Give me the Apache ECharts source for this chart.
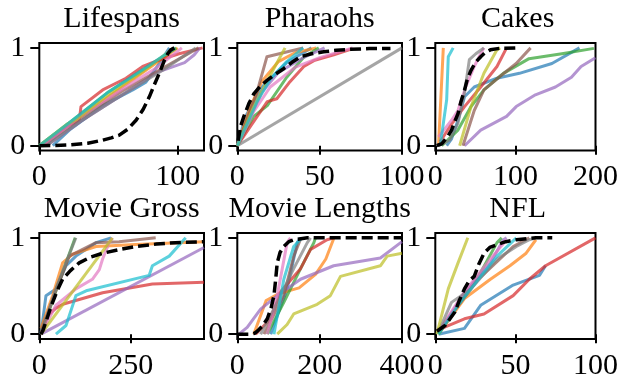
<!DOCTYPE html>
<html>
<head>
<meta charset="utf-8">
<script src="https://cdn.jsdelivr.net/npm/echarts@6/dist/echarts.min.js"></script>
<style>
html,body{margin:0;padding:0;background:#fff;}
#chart{width:621px;height:381px;}
</style>
</head>
<body>
<div id="chart"></div>
<script>
// ---- data ----
const colors = ['#1f77b4','#ff7f0e','#2ca02c','#d62728','#9467bd','#8c564b','#e377c2','#7f7f7f','#bcbd22','#17becf'];
const titles = ['Lifespans','Pharaohs','Cakes','Movie Gross','Movie Lengths','NFL'];
const xMax = [119, 100, 200, 450, 400, 100];
const xTicks = [[0,100],[0,50,100],[0,100,200],[0,250],[0,200,400],[0,50,100]];
const yTicks = [0, 1];

// Lifespans: one line per colour (blue..cyan), then the true distribution
const lifespansLines = [
  [[9.7,0],[21.7,0.16],[45.8,0.41],[67.5,0.57],[77,0.65],[86.7,0.84],[94,1]],
  [[1,0],[25,0.25],[50,0.5],[75,0.75],[100,1]],
  [[0,0],[25,0.27],[50,0.55],[75,0.78],[99,1]],
  [[2,0],[20,0.2],[28.9,0.26],[30.1,0.40],[45.8,0.57],[62.6,0.69],[74.7,0.81],[86.7,0.876],[101,0.94],[118,1]],
  [[5,0],[30,0.25],[60,0.52],[85,0.75],[105,0.85],[112,0.93],[116,1]],
  [[3,0],[30,0.28],[60,0.56],[90,0.8],[115,1]],
  [[2,0],[30,0.3],[60,0.58],[85,0.8],[103,1]],
  [[5,0],[30,0.25],[60,0.52],[90,0.78],[113,1]],
  [[0,0],[20,0.22],[27,0.27],[50,0.52],[75,0.76],[97,1]],
  [[0,0],[25,0.27],[50,0.55],[75,0.78],[98,1]]
];
const lifespansTrue = [[0,0],[10,0.002],[21.7,0.008],[35,0.025],[45.8,0.057],[52,0.08],[57.8,0.108],[64,0.17],[69.9,0.26],[75,0.37],[79.5,0.5],[83,0.62],[86.7,0.74],[90,0.86],[92.8,0.94],[95,0.98],[97.6,1]];

const pharaohsLines = [
  [[0,0],[5,0.3],[15,0.6],[30,0.85],[45,1]],
  [[0,0],[8,0.4],[15,0.66],[25,0.86],[35,0.95],[48,1]],
  [[0,0],[10,0.3],[18.2,0.41],[30,0.7],[40,0.9],[49.5,1]],
  [[0,0],[18.2,0.45],[24,0.48],[31.3,0.64],[40.4,0.81],[46.5,0.87],[58.6,0.93],[69.7,0.99]],
  [[0,0],[15,0.55],[25,0.75],[40,0.9],[53,1]],
  [[0,0],[12,0.55],[18,0.91],[28,0.95],[40,1]],
  [[0,0],[10,0.35],[20,0.6],[35,0.8],[50,0.9],[70,1]],
  [[0,0],[100,1]],
  [[0,0],[10,0.4],[20,0.72],[29,1]],
  [[0,0],[12,0.45],[20,0.68],[30,0.86],[40,1]]
];
const pharaohsTrue = [[0.5,0.05],[2,0.2],[4,0.3],[7,0.43],[10,0.53],[14,0.61],[18.2,0.67],[23,0.73],[28.3,0.79],[33,0.85],[38.4,0.91],[45,0.94],[52.5,0.96],[60,0.975],[68.7,0.985],[80,0.993],[93,0.995]];

const cakesLines = [
  [[14.2,0],[20.3,0.07],[28.3,0.26],[36.5,0.5],[48.6,0.6],[76.9,0.69],[105,0.74],[145.6,0.84],[180,1]],
  [[4,0],[7,0.5],[10,1]],
  [[8,0],[28.3,0.16],[44.6,0.4],[60.7,0.57],[85,0.74],[117,0.89],[158,0.94],[198,0.995]],
  [[6,0.04],[20.3,0.22],[36.5,0.40],[56.7,0.6],[77,0.81],[89,1]],
  [[36.5,0],[56.7,0.16],[89,0.3],[101,0.4],[125,0.52],[150,0.6],[170,0.7],[182,0.81],[200,0.9]],
  [[34.5,0],[48.6,0.36],[60.7,0.57],[81,0.71],[101,0.84],[119,1]],
  [[4,0.09],[20.3,0.26],[28.3,0.36],[38,0.6],[48.6,0.81],[56.7,0.94],[60.7,1]],
  [[4,0],[18.2,0.06],[28.3,0.23],[36.5,0.54],[42.5,0.88],[50.6,0.94],[60.7,1]],
  [[30.4,0],[44.6,0.40],[60.7,0.74],[77,0.98],[81,1]],
  [[6.1,0],[14.2,0.47],[16.2,0.91],[22.3,1]]
];
const cakesTrue = [[1.8,0],[8,0.02],[12.1,0.06],[16,0.1],[20.3,0.16],[24,0.24],[28.4,0.33],[32,0.45],[36.5,0.57],[40,0.68],[44.6,0.77],[50,0.85],[56.7,0.91],[62,0.95],[68.8,0.98],[80,0.995],[103,1]];

const movieGrossLines = [
  [[4,0],[9,0.13],[18.2,0.40],[45.5,0.47],[73,0.71],[100,0.81],[155,0.95],[196,1]],
  [[4.6,0.06],[36.4,0.40],[63.7,0.74],[91,0.83],[155,0.91],[263,0.93],[450,0.96]],
  [[4.6,0],[50,0.5],[98,1]],
  [[4.6,0],[25,0.2],[45.5,0.27],[64,0.31],[173,0.43],[309,0.52],[450,0.54]],
  [[4.6,0],[450,0.9]],
  [[4.6,0.02],[40,0.4],[82,0.81],[155,0.95],[218,0.96],[318,1]],
  [[4.6,0],[45.5,0.30],[100,0.47],[145,0.57],[164,0.67],[173,0.78],[191,0.95],[200,1]],
  [[4.6,0],[50,0.52],[100,1]],
  [[4.6,0],[200,1]],
  [[45.5,0],[73,0.09],[100,0.40],[128,0.45],[300,0.61],[309,0.71],[355,0.81],[400,1]]
];
const movieGrossTrue = [[4.6,0],[10,0.04],[18.3,0.13],[27,0.23],[36.4,0.33],[50,0.46],[63.7,0.57],[85,0.66],[109,0.74],[140,0.8],[173,0.84],[220,0.88],[263,0.91],[320,0.935],[372,0.95],[450,0.96]];

const movieLengthsLines = [
  [[81,0],[121,0.47],[145.6,0.95],[153,1]],
  [[40,0],[70,0.35],[100,0.42],[150,0.48],[190,0.62],[215,0.78],[235,1]],
  [[72.8,0],[113,0.33],[153.6,0.68],[186,0.95],[190,1]],
  [[44.5,0],[81,0.16],[105,0.44],[153.6,0.68],[178,0.88],[218,0.98],[234,1]],
  [[4,0],[24,0.07],[56.6,0.26],[97,0.40],[153.6,0.57],[234,0.71],[347.5,0.79],[400,0.96]],
  [[64.7,0],[113,0.4],[137,0.81],[153,0.98]],
  [[72.8,0],[97,0.40],[121,0.95],[129,1]],
  [[56.6,0],[97,0.33],[137,0.68],[170,0.95],[178,1]],
  [[97,0],[121,0.1],[137,0.21],[194,0.31],[226,0.40],[250.6,0.6],[347.5,0.71],[364,0.81],[400,0.84]],
  [[89,0],[113,0.57],[137,0.91],[157,1]]
];
const movieLengthsTrue = [[0,0],[32.4,0],[42,0.01],[48.5,0.03],[60,0.08],[72.8,0.16],[82,0.27],[89,0.40],[93,0.56],[97,0.74],[104,0.85],[113,0.91],[125,0.96],[137,0.98],[170,1],[400,1]];

const nflLines = [
  [[2,0],[18.2,0.06],[28.3,0.30],[48.6,0.51],[65,0.61],[68.8,0.71]],
  [[2,0],[18.2,0.37],[34.4,0.57],[46.6,0.71],[56.7,0.84],[62.8,0.98]],
  [[2,0],[14.2,0.3],[28.3,0.64],[38.5,0.95],[41.5,1]],
  [[1,0.04],[18.2,0.16],[30.4,0.21],[48.6,0.40],[58.7,0.57],[68.8,0.71],[100,1]],
  [[4,0.06],[18.2,0.43],[34.4,0.74],[42.5,0.98],[44.5,1]],
  [[2,0.03],[26.3,0.56],[48.6,0.91],[58.7,1]],
  [[2,0.03],[18.2,0.44],[34.4,0.78],[44.5,0.98]],
  [[2,0.03],[10.1,0.33],[22.3,0.47],[38.5,0.78],[50.6,0.91],[58.7,0.98],[62.8,1]],
  [[1,0],[8.1,0.47],[14.2,0.74],[20.3,1]],
  [[2,0],[14.2,0.3],[28.3,0.6],[38.5,0.81],[50.6,1]]
];
const nflTrue = [[1,0.03],[6.1,0.09],[12.2,0.23],[15,0.35],[18.2,0.47],[21,0.55],[24.3,0.6],[27,0.72],[30.4,0.84],[34,0.9],[38.5,0.93],[44,0.96],[50.6,0.98],[62.8,1],[73,1]];

const panelLines = [lifespansLines, pharaohsLines, cakesLines, movieGrossLines, movieLengthsLines, nflLines];
const panelTrue = [lifespansTrue, pharaohsTrue, cakesTrue, movieGrossTrue, movieLengthsTrue, nflTrue];

// ---- layout ----
const FONT = '"Liberation Serif", "Times New Roman", serif';
const FS = 30;
const colLeft = [39.3, 237.3, 435.3];
const rowTop = [43, 233];
const gw = 164.7, gh = 107.6;

const grids = [], xAxes = [], yAxes = [], series = [], graphics = [];
for (let p = 0; p < 6; p++) {
  const r = Math.floor(p / 3), c = p % 3;
  grids.push({left: colLeft[c], top: rowTop[r], width: gw, height: gh, show: true,
    borderColor: '#000', borderWidth: 2, backgroundColor: 'transparent', containLabel: false});
  xAxes.push({type: 'value', gridIndex: p, min: 0, max: xMax[p],
    axisLine: {show: false}, splitLine: {show: false},
    axisTick: {show: true, length: 9, lineStyle: {color: '#000', width: 2}, customValues: xTicks[p]},
    axisLabel: {customValues: xTicks[p], fontFamily: FONT, fontSize: FS, color: '#000', margin: 12, showMinLabel: true, showMaxLabel: true}});
  yAxes.push({type: 'value', gridIndex: p, min: -0.05, max: 1.05,
    axisLine: {show: false}, splitLine: {show: false},
    axisTick: {show: true, length: 9, lineStyle: {color: '#000', width: 2}, customValues: yTicks},
    axisLabel: {customValues: yTicks, fontFamily: FONT, fontSize: FS, color: '#000', margin: 14, showMinLabel: true, showMaxLabel: true}});
  panelLines[p].forEach((d, k) => {
    series.push({type: 'line', xAxisIndex: p, yAxisIndex: p, data: d, showSymbol: false,
      animation: false, silent: true, clip: true, z: 2,
      lineStyle: {color: colors[k], width: 3, opacity: 0.7, cap: 'butt', join: 'round'}});
  });
  series.push({type: 'line', xAxisIndex: p, yAxisIndex: p, data: panelTrue[p], showSymbol: false,
    animation: false, silent: true, clip: true, z: 3,
    lineStyle: {color: '#000', width: 3.5, type: [11, 5], cap: 'butt'}});
  graphics.push({type: 'text', x: colLeft[c] + gw / 2, y: r === 0 ? 19 : 209,
    style: {text: titles[p], font: FS + 'px ' + FONT, textAlign: 'center', textVerticalAlign: 'middle', fill: '#000'}});
}

const chart = echarts.init(document.getElementById('chart'), null, {renderer: 'canvas'});
chart.setOption({
  animation: false,
  grid: grids, xAxis: xAxes, yAxis: yAxes, series: series, graphic: graphics
});
</script>
</body>
</html>
